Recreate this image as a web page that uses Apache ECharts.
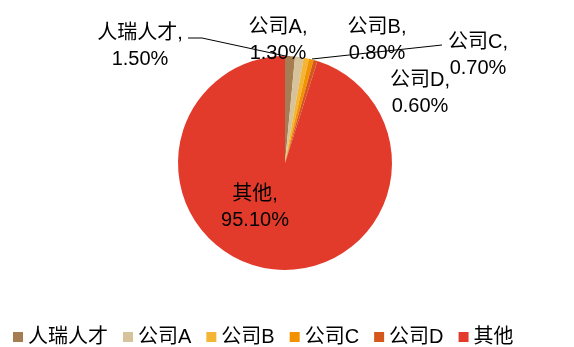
<!DOCTYPE html>
<html>
<head>
<meta charset="utf-8">
<script src="https://cdn.jsdelivr.net/npm/echarts@6/dist/echarts.min.js"></script>
<style>
  html, body { margin: 0; padding: 0; background: #fff; }
  #chart { width: 574px; height: 347px; }
</style>
</head>
<body>
<div id="chart"></div>
<script>
// Market share (%) by company
const names = ['人瑞人才', '公司A', '公司B', '公司C', '公司D', '其他'];
const shares = [1.5, 1.3, 0.8, 0.7, 0.6, 95.1];
const colors = ['#A67C52', '#D6C39C', '#F4B534', '#F39200', '#D4581C', '#E33B2B'];

// Label anchor (centre of each two-line label) and optional leader line
const labelSpots = [
  { x: 140, y: 46, line: [[188, 38], [202, 38], [290, 57]] },
  { x: 278, y: 40 },
  { x: 377, y: 40 },
  { x: 478, y: 55, line: [[312, 59], [442, 45]] },
  { x: 420, y: 93 },
  { x: 255, y: 207 }
];

const chart = echarts.init(document.getElementById('chart'));
const font = "'Liberation Sans', 'Noto Sans CJK SC', sans-serif";

chart.setOption({
  animation: false,
  color: colors,
  legend: {
    data: names,
    left: 8,
    top: 322,
    itemWidth: 10,
    itemHeight: 10,
    itemGap: 15,
    icon: 'rect',
    textStyle: { fontFamily: font, fontSize: 20, color: '#000' }
  },
  series: [{
    type: 'pie',
    center: [285, 163],
    radius: 107,
    startAngle: 90,
    clockwise: true,
    avoidLabelOverlap: false,
    data: names.map((n, i) => ({
      name: n,
      value: shares[i],
      labelLine: { show: !!labelSpots[i].line }
    })),
    label: {
      show: true,
      position: 'outside',
      formatter: p => p.name + ',\n' + p.value.toFixed(2) + '%',
      fontFamily: font,
      fontSize: 20,
      lineHeight: 26,
      color: '#000',
      align: 'center'
    },
    labelLine: {
      show: true,
      lineStyle: { color: '#000', width: 1 }
    },
    labelLayout: params => {
      const s = labelSpots[params.dataIndex];
      const out = { x: s.x, y: s.y, align: 'center', verticalAlign: 'middle' };
      if (s.line) out.labelLinePoints = s.line.length === 3 ? s.line : [s.line[0], s.line[0], s.line[1]];
      return out;
    }
  }]
});
</script>
</body>
</html>
